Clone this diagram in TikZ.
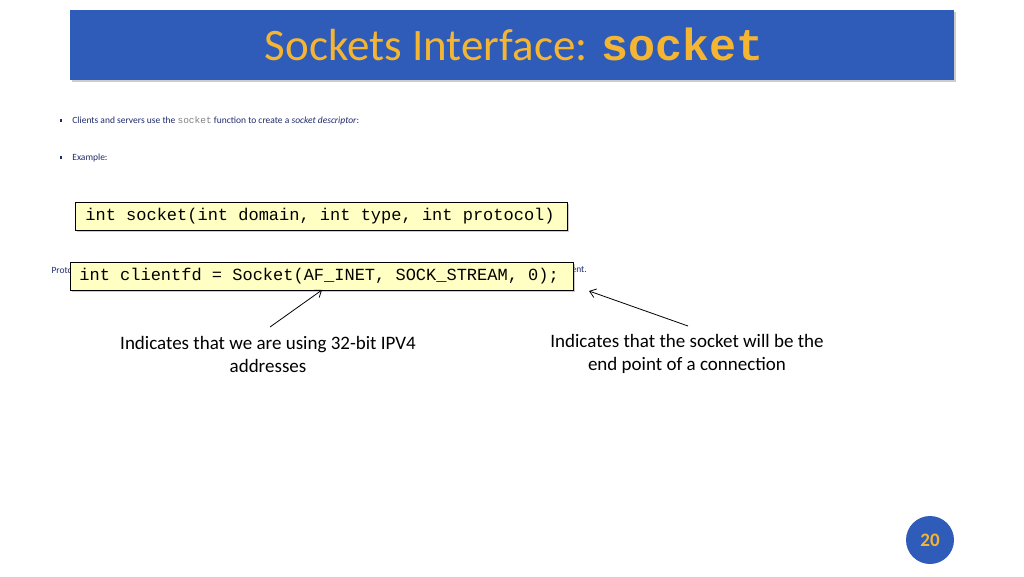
\documentclass[tikz,border=0pt]{standalone}
\usepackage{fontspec}
\setmainfont{Carlito}
\setmonofont{Liberation Mono}
\usetikzlibrary{shadows,arrows.meta}
\definecolor{barblue}{HTML}{2F5CB8}
\definecolor{titleor}{HTML}{F4B533}
\definecolor{bultxt}{HTML}{1F2A6B}
\definecolor{boxy}{HTML}{FFFFC4}
\newcommand\tsp{\hspace{0.6em}}
\newcommand\sqbul{\rule[0.15em]{0.3em}{0.3em}}
\tikzset{
 codebox/.style={draw=black,fill=boxy,line width=0.8pt,anchor=north west,inner sep=0pt,font=\ttfamily\fontsize{17}{20}\selectfont,drop shadow={shadow xshift=2pt,shadow yshift=-2pt,opacity=0.4}},
 note/.style={align=center,font=\fontsize{19}{23}\selectfont},
 small/.style={anchor=west,font=\fontsize{9.5}{11}\selectfont,text=bultxt},
 arr/.style={-{Straight Barb[length=6pt,width=9pt]},line width=0.8pt}
}
\begin{document}
\begin{tikzpicture}[x=1pt,y=-1pt]
\useasboundingbox (0,0) rectangle (1024,576);
\fill[barblue,drop shadow={shadow xshift=2pt,shadow yshift=-2pt,opacity=0.4}] (70,10) rectangle (954,80);
\node (title) at (514,44) {\color{titleor}\fontsize{45}{50}\selectfont Sockets Interface: \texttt{\bfseries socket}};
\node[small] (b1) at (56,121) {\sqbul\hspace{10pt}Clients and servers use the {\ttfamily\color{gray}socket} function to create a \textit{socket descriptor}:};
\node[small] (b2) at (56,158) {\sqbul\hspace{10pt}Example:};
\node[small] (p1) at (48,270) {Proto};
\node[small] (p2) at (568,270) {ent.};
\node[codebox,minimum width=492pt,minimum height=28pt,text width=484pt,align=left] (box1) at (75,202) {\hspace{6pt}int\tsp socket(int\tsp domain,\tsp int\tsp type,\tsp int\tsp protocol)};
\node[codebox,minimum width=503pt,minimum height=28pt,text width=497pt,align=left] (box2) at (70,262) {\hspace{6pt}int\tsp clientfd\tsp =\tsp Socket(AF\_INET,\tsp SOCK\_STREAM,\tsp 0);};
\node[note] (n1) at (268,354) {Indicates that we are using 32-bit IPV4\\addresses};
\node[note] (n2) at (687,354) {Indicates that the socket will be the\\end point of a connection};
\coordinate (t1) at (322,290);
\coordinate (t2) at (589,291);
\draw[arr] (270,327) -- (t1);
\draw[arr] (688,326) -- (t2);
\node[circle,fill=barblue,minimum size=48pt,text=titleor,font=\bfseries\fontsize{19}{22}\selectfont] (pg) at (930,540) {20};
\end{tikzpicture}
\end{document}
